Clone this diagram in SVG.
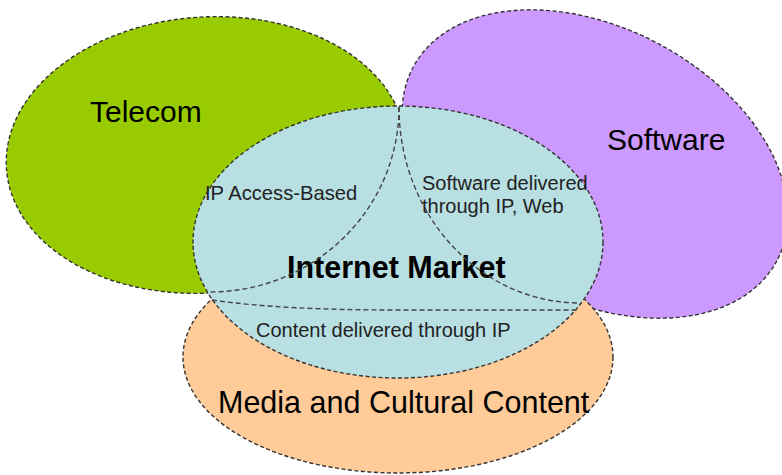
<svg xmlns="http://www.w3.org/2000/svg" width="782" height="475" viewBox="0 0 782 475">
<style>
.sh{stroke:#333;stroke-width:1.4;stroke-dasharray:4 2.5}
.ln{fill:none;stroke:#444;stroke-width:1.4;stroke-dasharray:5 3}
.big{font-family:"Liberation Sans",Arial,sans-serif;font-size:30px;fill:#000}
.sm{font-family:"Liberation Sans",Arial,sans-serif;font-size:20px;fill:#222}
</style>
<rect width="782" height="475" fill="#fff"/>
<g id="telecom">
<ellipse class="sh" cx="0" cy="0" rx="200" ry="138" fill="#99CC00" transform="translate(206 155) rotate(-4)"/>
<text class="big" x="90" y="122">Telecom</text>
</g>
<g id="software">
<ellipse class="sh" cx="0" cy="0" rx="206" ry="136" fill="#CC99FF" transform="translate(595 164) rotate(28)"/>
<text class="big" x="607" y="150">Software</text>
</g>
<g id="media">
<ellipse class="sh" cx="398" cy="357" rx="215" ry="116" fill="#FFCC99"/>
<text class="big" x="218" y="413" style="font-size:30.5px">Media and Cultural Content</text>
</g>
<g id="internet">
<ellipse class="sh" cx="398" cy="242" rx="205" ry="136" fill="#B8DFE2"/>
<text class="big" x="287" y="278" style="font-weight:bold;font-size:30.5px">Internet Market</text>
</g>
<g id="connectors">
<path class="ln" d="M399,107 A189,185 0 0 1 210,292"/>
<path class="ln" d="M399,107 A181,196 0 0 0 578,303"/>
<path class="ln" d="M212,300 C260,307 320,310 400,310 L578,310"/>
</g>
<g id="labels">
<text class="sm" x="205" y="200" style="font-size:20.2px">IP Access-Based</text>
<text class="sm" x="422" y="190">Software delivered</text>
<text class="sm" x="422" y="213">through IP, Web</text>
<text class="sm" x="256" y="337">Content delivered through IP</text>
</g>
</svg>
